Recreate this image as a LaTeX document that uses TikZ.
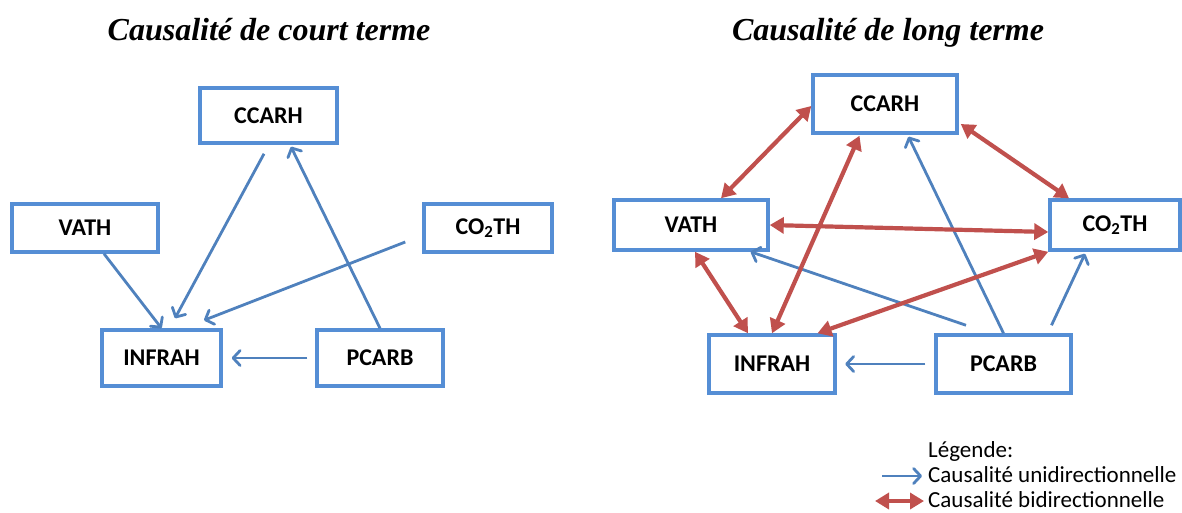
\documentclass[tikz,border=0pt]{standalone}
\usepackage{fontspec}
\setmainfont{Carlito}
\newfontfamily\titlefont{Liberation Serif}
\usetikzlibrary{arrows.meta,calc}
\definecolor{boxblue}{RGB}{85,142,213}
\definecolor{uniblue}{RGB}{79,129,189}
\definecolor{bired}{RGB}{192,80,77}
\tikzset{
  box/.style={draw=boxblue, line width=3.5pt, fill=white, inner sep=0pt,
    font=\fontsize{24}{28}\selectfont\bfseries},
  uni/.style={-{Straight Barb[length=7pt,width=15pt,round]}, line width=2.8pt, draw=uniblue},
  bi/.style={{Triangle[length=14pt,width=16pt]}-{Triangle[length=14pt,width=16pt]},
    line width=4.2pt, draw=bired},
  titre/.style={font=\titlefont\fontsize{32}{36}\selectfont\bfseries\itshape, anchor=base},
  legende/.style={font=\fontsize{23}{27}\selectfont, anchor=base west, inner sep=0pt},
}

\begin{document}
\begin{tikzpicture}[x=1pt, y=-1pt]
\useasboundingbox (0,0) rectangle (1182,512);

% Titles
\node[titre] (titreC) at (269,40) {Causalité de court terme};
\node[titre] (titreL) at (888,40) {Causalité de long terme};

% Short term
\node[box, minimum width=137pt, minimum height=55pt] (ccarhC) at (268.5,115.5) {CCARH};
\node[box, minimum width=146pt, minimum height=48pt] (vathC) at (85,228) {VATH};
\node[box, minimum width=128pt, minimum height=48pt] (co2thC) at (488,228) {CO\textsubscript{2}TH};
\node[box, minimum width=119pt, minimum height=56pt] (infrahC) at (161.5,358) {INFRAH};
\node[box, minimum width=126pt, minimum height=56pt] (pcarbC) at (380,358) {PCARB};

\draw[uni] ([shift={(-4.5,9)}]ccarhC.south) -- ([shift={(13.5,-10)}]infrahC.north);
\draw[uni] (pcarbC.north) -- ([shift={(22.5,2)}]ccarhC.south);
\draw[uni] ([shift={(19,0)}]vathC.south) -- (infrahC.north);
\draw[uni] ([shift={(-17,14)}]co2thC.west) -- ([shift={(42.5,-8)}]infrahC.north);
\draw[uni] ([shift={(-8,0)}]pcarbC.west) -- ([shift={(9,0)}]infrahC.east);

% Long term
\node[box, minimum width=144pt, minimum height=58pt] (ccarhL) at (885,104) {CCARH};
\node[box, minimum width=154pt, minimum height=50pt] (vathL) at (691,225) {VATH};
\node[box, minimum width=130pt, minimum height=50pt] (co2thL) at (1115,225) {CO\textsubscript{2}TH};
\node[box, minimum width=126pt, minimum height=58pt] (infrahL) at (772,364) {INFRAH};
\node[box, minimum width=135pt, minimum height=58pt] (pcarbL) at (1003.5,364) {PCARB};

\draw[uni] ([shift={(-37.5,-8)}]pcarbL.north) -- ([shift={(59.6,0)}]vathL.south);
\draw[uni] (pcarbL.north) -- ([shift={(23.5,2)}]ccarhL.south);
\draw[uni] ([shift={(48,-8)}]pcarbL.north) -- ([shift={(-30,2)}]co2thL.south);
\draw[uni] ([shift={(-9,0)}]pcarbL.west) -- ([shift={(8.5,0)}]infrahL.east);

\draw[bi] ([shift={(0,2)}]ccarhL.west) -- ([shift={(30,0)}]vathL.north);
\draw[bi] ([shift={(2,20)}]ccarhL.east) -- ([shift={(-46,0)}]co2thL.north);
\draw[bi] (vathL.east) -- ([shift={(0,7)}]co2thL.west);
\draw[bi] ([shift={(4,0)}]vathL.south) -- ([shift={(-24,0)}]infrahL.north);
\draw[bi] (infrahL.north) -- ([shift={(-25.5,1)}]ccarhL.south);
\draw[bi] ([shift={(45.5,0)}]infrahL.north) -- (co2thL.south west);

% Legend
\node[legende] (legTitre) at (928,457) {Légende:};
\node[legende] (legUni) at (928,482) {Causalité unidirectionnelle};
\node[legende] (legBi) at (928,507) {Causalité bidirectionnelle};
\coordinate (uniA) at (882,476);
\coordinate (uniB) at (922,476);
\coordinate (biA) at (875,501);
\coordinate (biB) at (924,501);
\draw[uni] (uniA) -- (uniB);
\draw[bi] (biA) -- (biB);

\end{tikzpicture}
\end{document}
